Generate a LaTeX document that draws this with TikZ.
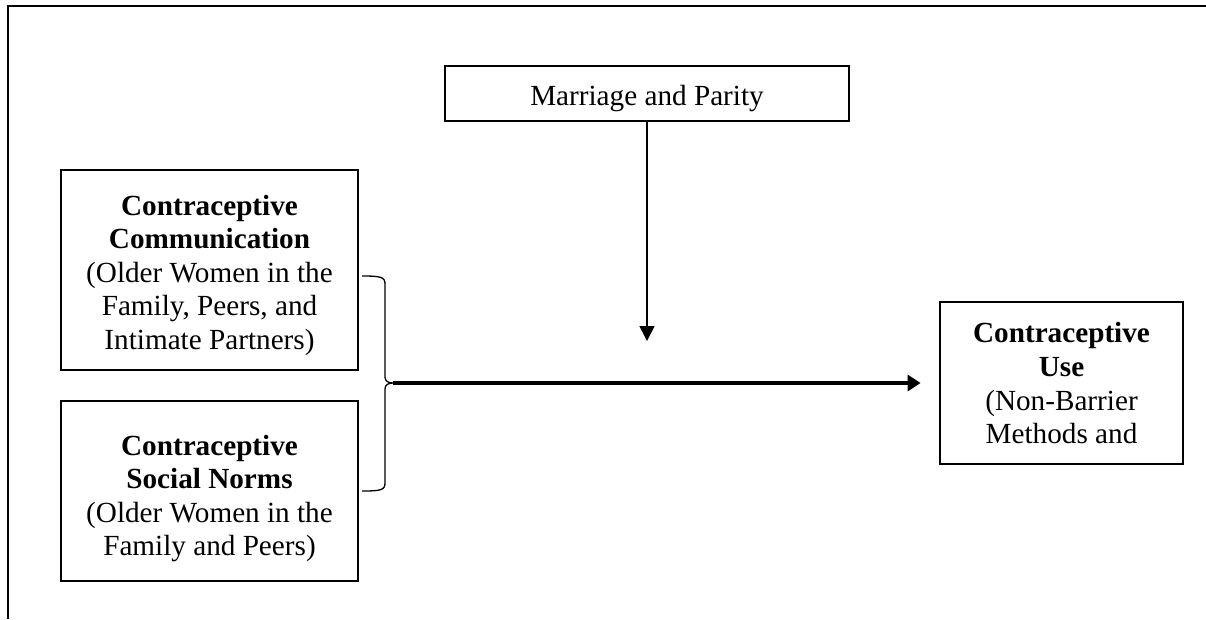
\documentclass[tikz,border=0pt]{standalone}
\usepackage{fontspec}
\setmainfont{Liberation Serif}
\usetikzlibrary{arrows.meta}
\begin{document}
\begin{tikzpicture}[x=1pt,y=-1pt,
  boxshape/.style={draw, rectangle, inner sep=0pt, line width=2.8pt},
  txt/.style={inner sep=0pt, align=center, font=\fontsize{29.2}{33.6}\selectfont},
  thinarrow/.style={line width=1.6pt, -{Triangle[length=15pt,width=15pt]}},
  thickarrow/.style={line width=3.4pt, -{Triangle[length=13pt,width=16pt]}},
  bracestyle/.style={line width=1.3pt}]
\useasboundingbox (0,0) rectangle (1206,619);
% outer frame (left and top edges)
\draw[line width=2.6pt] (8,619) -- (8,6) -- (1206,6);

% boxes
\node[boxshape, line width=2pt, minimum width=404pt, minimum height=55pt] (marr) at (647,93.5) {};
\node[txt, anchor=base] (marrtxt) at (647,105) {Marriage and Parity};

\node[boxshape, minimum width=297pt, minimum height=200pt] (comm) at (209.5,270) {};
\node[txt] (commtxt) at (209.5,275.2) {\textbf{Contraceptive}\\\textbf{Communication}\\(Older Women in the\\Family, Peers, and\\Intimate Partners)};

\node[boxshape, minimum width=297pt, minimum height=180pt] (norms) at (209.5,491) {};
\node[txt] (normstxt) at (209.5,498.5) {\textbf{Contraceptive}\\\textbf{Social Norms}\\(Older Women in the\\Family and Peers)};

\node[boxshape, minimum width=243pt, minimum height=162pt] (use) at (1061.5,383) {};
\node[txt] (usetxt) at (1061.5,383.4) {\textbf{Contraceptive}\\\textbf{Use}\\(Non-Barrier\\Methods and};

% brace
\coordinate (bracetop) at (362,276);
\coordinate (bracetip) at (393,383);
\coordinate (bracebot) at (362,491);
\draw[bracestyle] (bracetop) .. controls (381,276) and (385,277) .. (385,284)
  -- (385,377) .. controls (385,381) and (388,383) .. (bracetip)
  .. controls (388,383) and (385,385) .. (385,389)
  -- (385,483) .. controls (385,490) and (381,491) .. (bracebot);

% moderating arrow
\coordinate (vtip) at (647,341);
\draw[thinarrow] (marr.south) -- (vtip);

% main arrow
\draw[thickarrow] (bracetip) -- ([xshift=-18pt]use.west);
\end{tikzpicture}
\end{document}
